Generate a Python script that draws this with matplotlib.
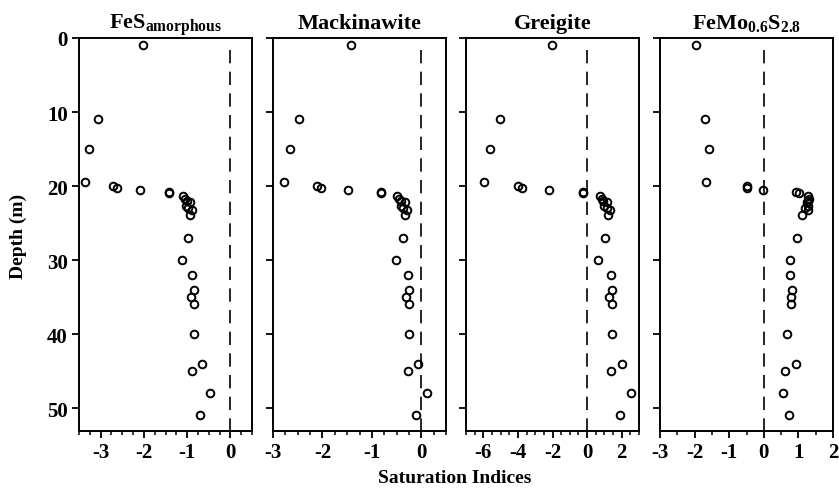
import numpy as np
import matplotlib
matplotlib.use("Agg")
import matplotlib.pyplot as plt
from matplotlib.ticker import MultipleLocator

plt.rcParams['font.family'] = ['Liberation Serif', 'DejaVu Serif']
plt.rcParams['font.weight'] = 'bold'
plt.rcParams['mathtext.fontset'] = 'custom'
plt.rcParams['mathtext.rm'] = 'Liberation Serif:bold'
plt.rcParams['mathtext.bf'] = 'Liberation Serif:bold'
plt.rcParams['mathtext.it'] = 'Liberation Serif:bold'

# depth of samples (m)
depth = [1, 11, 15, 19.5, 20, 20.3, 20.5, 20.8, 21,
         21.3, 21.7, 22.0, 22.2, 22.7, 23.0, 23.2, 23.9,
         27, 30, 32, 34, 35, 36, 40, 44, 45, 48, 51]

si_fes_am = [-2.03, -3.06, -3.26, -3.37, -2.71, -2.63, -2.09, -1.43, -1.43,
             -1.09, -1.05, -1.01, -0.93, -1.02, -0.97, -0.89, -0.94,
             -0.97, -1.12, -0.88, -0.85, -0.91, -0.84, -0.85, -0.66, -0.88, -0.48, -0.70]

si_mack = [-1.43, -2.48, -2.66, -2.77, -2.11, -2.03, -1.49, -0.82, -0.82,
           -0.49, -0.46, -0.42, -0.33, -0.41, -0.36, -0.29, -0.33,
           -0.38, -0.52, -0.27, -0.25, -0.31, -0.24, -0.25, -0.06, -0.27, 0.11, -0.10]

si_greig = [-2.03, -5.06, -5.59, -5.95, -3.98, -3.77, -2.22, -0.25, -0.25,
            0.76, 0.85, 0.94, 1.17, 0.98, 1.14, 1.32, 1.19,
            1.06, 0.64, 1.38, 1.44, 1.25, 1.46, 1.46, 2.02, 1.38, 2.52, 1.89]

si_femos = [-1.97, -1.69, -1.58, -1.66, -0.50, -0.48, -0.03, 0.94, 1.02,
            1.28, 1.31, 1.28, 1.24, 1.28, 1.19, 1.28, 1.11,
            0.95, 0.75, 0.76, 0.81, 0.80, 0.80, 0.67, 0.92, 0.62, 0.56, 0.73]

titles = [r'FeS$_{\mathregular{amorphous}}$', 'Mackinawite', 'Greigite',
          r'FeMo$_{\mathregular{0.6}}$S$_{\mathregular{2.8}}$']
series = [si_fes_am, si_mack, si_greig, si_femos]
xlims = [(-3.5, 0.5), (-3, 0.5), (-7, 3), (-3, 2)]
xmajor = [1, 1, 2, 1]
xminor = [0.25, 0.25, 0.5, 0.5]

fig = plt.figure(figsize=(8.39, 4.89), dpi=100)
W, H = 839, 489
lefts = [79, 273, 466, 660]
pw = 173
top, bottom = 39, 432

for i in range(4):
    ax = fig.add_axes([lefts[i] / W, 1 - bottom / H, pw / W, (bottom - top) / H])
    ax.plot(series[i], depth, 'o', mfc='none', mec='black', ms=5.5, mew=1.4)
    ax.plot([0, 0], [1.6, 53.1], color='black', lw=1.2, dashes=(8, 5))
    ax.set_xlim(*xlims[i])
    ax.set_ylim(53.1, 0)
    ax.xaxis.set_major_locator(MultipleLocator(xmajor[i]))
    ax.xaxis.set_minor_locator(MultipleLocator(xminor[i]))
    ax.yaxis.set_major_locator(MultipleLocator(10))
    ax.tick_params(axis='both', which='major', direction='out', length=5, width=1.3,
                   labelsize=15, pad=3)
    ax.tick_params(axis='x', which='minor', direction='out', length=3, width=1.1)
    ax.xaxis.set_major_formatter(plt.FuncFormatter(lambda v, p: '%g' % v))
    for s in ax.spines.values():
        s.set_linewidth(1.4)
    if i > 0:
        ax.set_yticklabels([])
    ax.set_title(titles[i], fontsize=16, fontweight='bold', pad=7)

fig.text(18 / W, 1 - 236 / H, 'Depth (m)', ha='center', va='center', rotation=90,
         fontsize=14, fontweight='bold')
fig.text(455 / W, 1 - 479 / H, 'Saturation Indices', ha='center', va='center',
         fontsize=14, fontweight='bold')

fig.savefig('out.png', dpi=100)
